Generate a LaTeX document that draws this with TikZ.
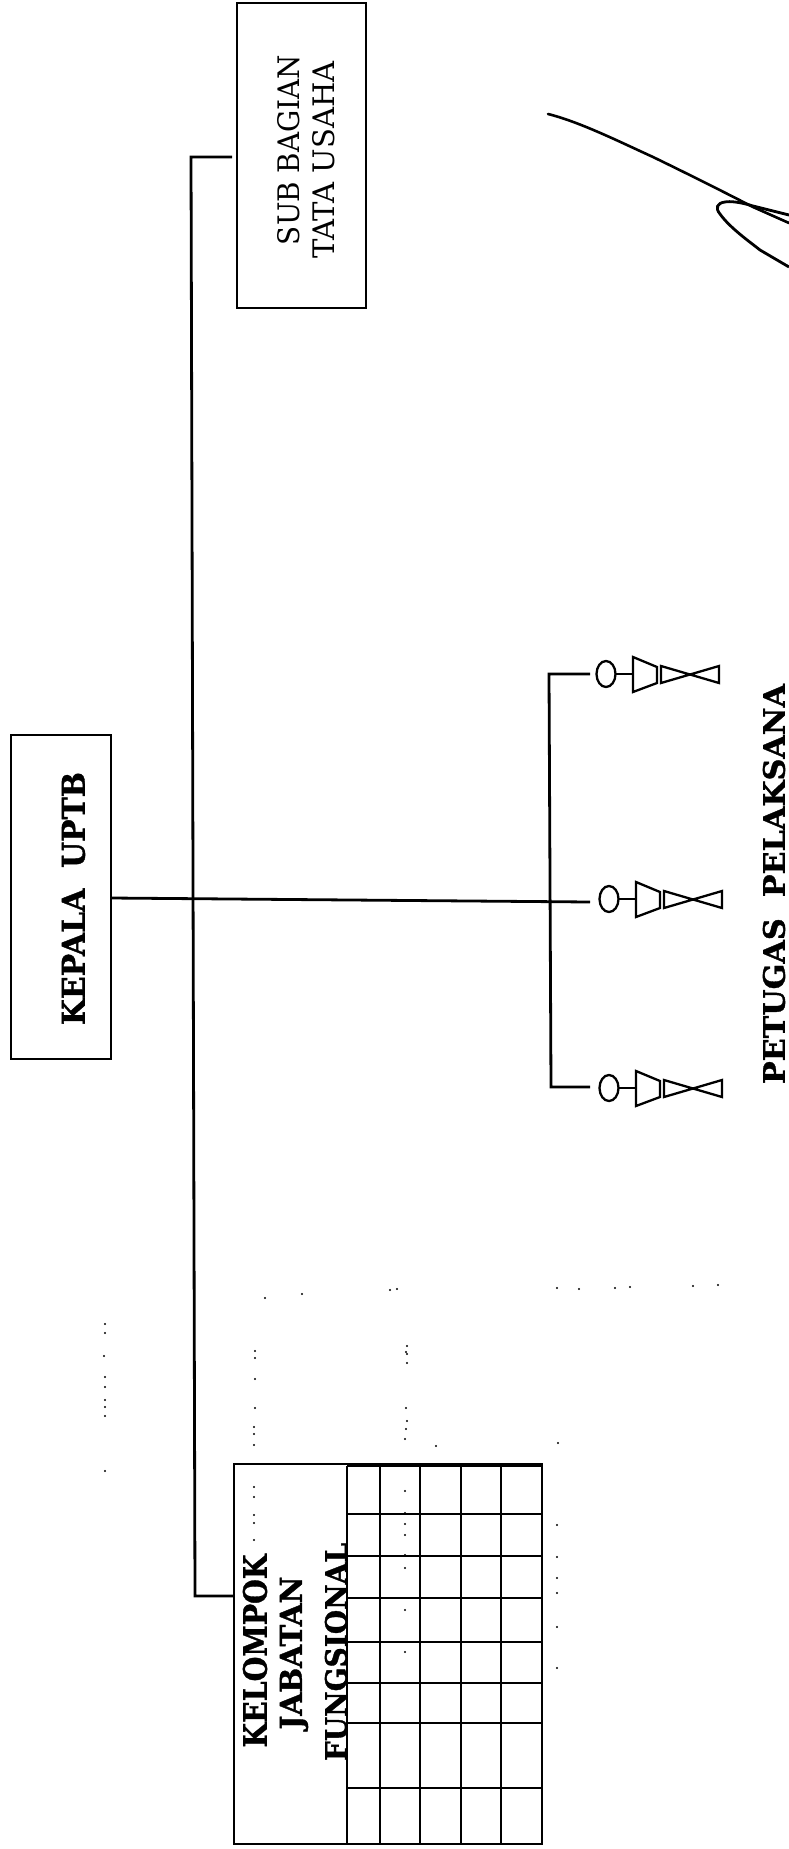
\documentclass[tikz,border=0pt]{standalone}
\usepackage{fontspec}
\setmainfont{Latin Modern Roman}
\newfontfamily\slab[BoldFeatures={FakeBold=1.2}]{DejaVu Serif}
\tikzset{
  ln/.style={draw=black,line width=2.8pt},
  thin box/.style={draw=black,line width=2.6pt},
  gridl/.style={draw=black,line width=2.4pt},
  fig/.style={draw=black,line width=2.3pt},
  bold label/.style={rotate=90,inner sep=0pt,font=\slab\bfseries\fontsize{25}{30}\selectfont},
  plain label/.style={rotate=90,inner sep=0pt,font=\slab\fontsize{30}{36}\selectfont},
}
\newcommand{\person}[2]{% x, y centre
  \begin{scope}[shift={(#1,#2)}]
    \draw[fig] (0,0) ellipse (9.5 and 13);
    \draw[fig] (9.5,0) -- (27,0);
    \draw[fig] (27,-17) -- (51,-7) -- (51,9) -- (27,18) -- cycle;
    \draw[fig] (55,-8) -- (55,9) -- (113,-8) -- (113,9) -- cycle;
  \end{scope}
}
\begin{document}
\begin{tikzpicture}[x=1pt,y=-1pt]
\useasboundingbox (0,0) rectangle (789,1849);
% boxes
\draw[thin box] (237,3) rectangle (366,308);
\draw[thin box] (11,735) rectangle (111,1059);
\draw[thin box] (234,1464) rectangle (542,1844);
\coordinate (subl) at (232,157);
\coordinate (keplr) at (111,898);
\coordinate (kell) at (234,1596);
\coordinate (tl) at (191,157);
\coordinate (bl) at (195,1596);
\draw[ln] (subl) -- (tl) -- (bl) -- (kell);
\coordinate (vt) at (549,674);
\coordinate (vb) at (551,1087);
\coordinate (topr) at (590,674);
\coordinate (midr) at (590,902);
\coordinate (botr) at (590,1087);
\draw[ln] (topr) -- (vt) -- (vb) -- (botr);
\draw[ln] (keplr) -- (midr);
% grid
\foreach \x in {347,380,420,461,501}{\draw[gridl] (\x,1466) -- (\x,1844);}
\foreach \y in {1466,1514,1556,1598,1642,1683,1723,1788}{\draw[gridl] (347,\y) -- (542,\y);}
% people
\person{606}{674}
\person{609}{899}
\person{609}{1088}
% labels
\node[plain label] (sub1) at (289,150) {\resizebox{190pt}{22pt}{SUB BAGIAN}};
\node[plain label] (sub2) at (324,160) {\resizebox{197pt}{22pt}{TATA USAHA}};
\node[bold label] (kep) at (73.5,898.5) {\resizebox{253pt}{23pt}{KEPALA\ \ UPTB}};
\node[bold label] (k1) at (255,1651) {\resizebox{193pt}{24pt}{KELOMPOK}};
\node[bold label] (k2) at (294,1653) {\resizebox{153pt}{22pt}{JABATAN}};
\node[bold label] (k3) at (336,1652) {\resizebox{218pt}{22pt}{FUNGSIONAL}};
\node[bold label] (pet) at (774,884) {\resizebox{400pt}{22pt}{PETUGAS\ \ PELAKSANA}};
% signature
\draw[line width=2.6pt,line cap=round] (548,114) .. controls (580,122) and (620,142) .. (653,157) .. controls (690,175) and (720,190) .. (753,207) -- (789,223);
\draw[line width=2.8pt] (789,215) -- (753,206) .. controls (740,202) and (730,201) .. (725,202) .. controls (717,203) and (715,208) .. (720,214) .. controls (730,228) and (750,242) .. (760,250) -- (789,267);
% specks
\foreach \p in {(105,1324),(105,1333),(104,1356),(105,1377),(105,1387),(105,1400),(105,1407),(105,1416),(105,1471),
 (255,1351),(255,1358),(255,1379),(255,1408),(254,1427),(254,1434),(254,1445),(254,1487),(254,1497),(254,1515),(254,1523),(254,1540),
 (302,1294),(265,1298),(390,1290),(397,1289),
 (407,1346),(406,1352),(407,1354),(407,1363),(406,1408),(407,1421),(406,1429),(405,1439),(405,1491),(405,1513),(405,1524),(405,1535),(405,1555),(405,1568),(405,1610),(405,1652),
 (436,1446),(558,1443),(557,1288),(579,1289),(615,1288),(630,1287),(693,1286),(718,1285),
 (557,1525),(557,1557),(557,1578),(557,1593),(557,1627),(557,1668)}
 {\fill \p circle (1.2);}
\end{tikzpicture}
\end{document}
